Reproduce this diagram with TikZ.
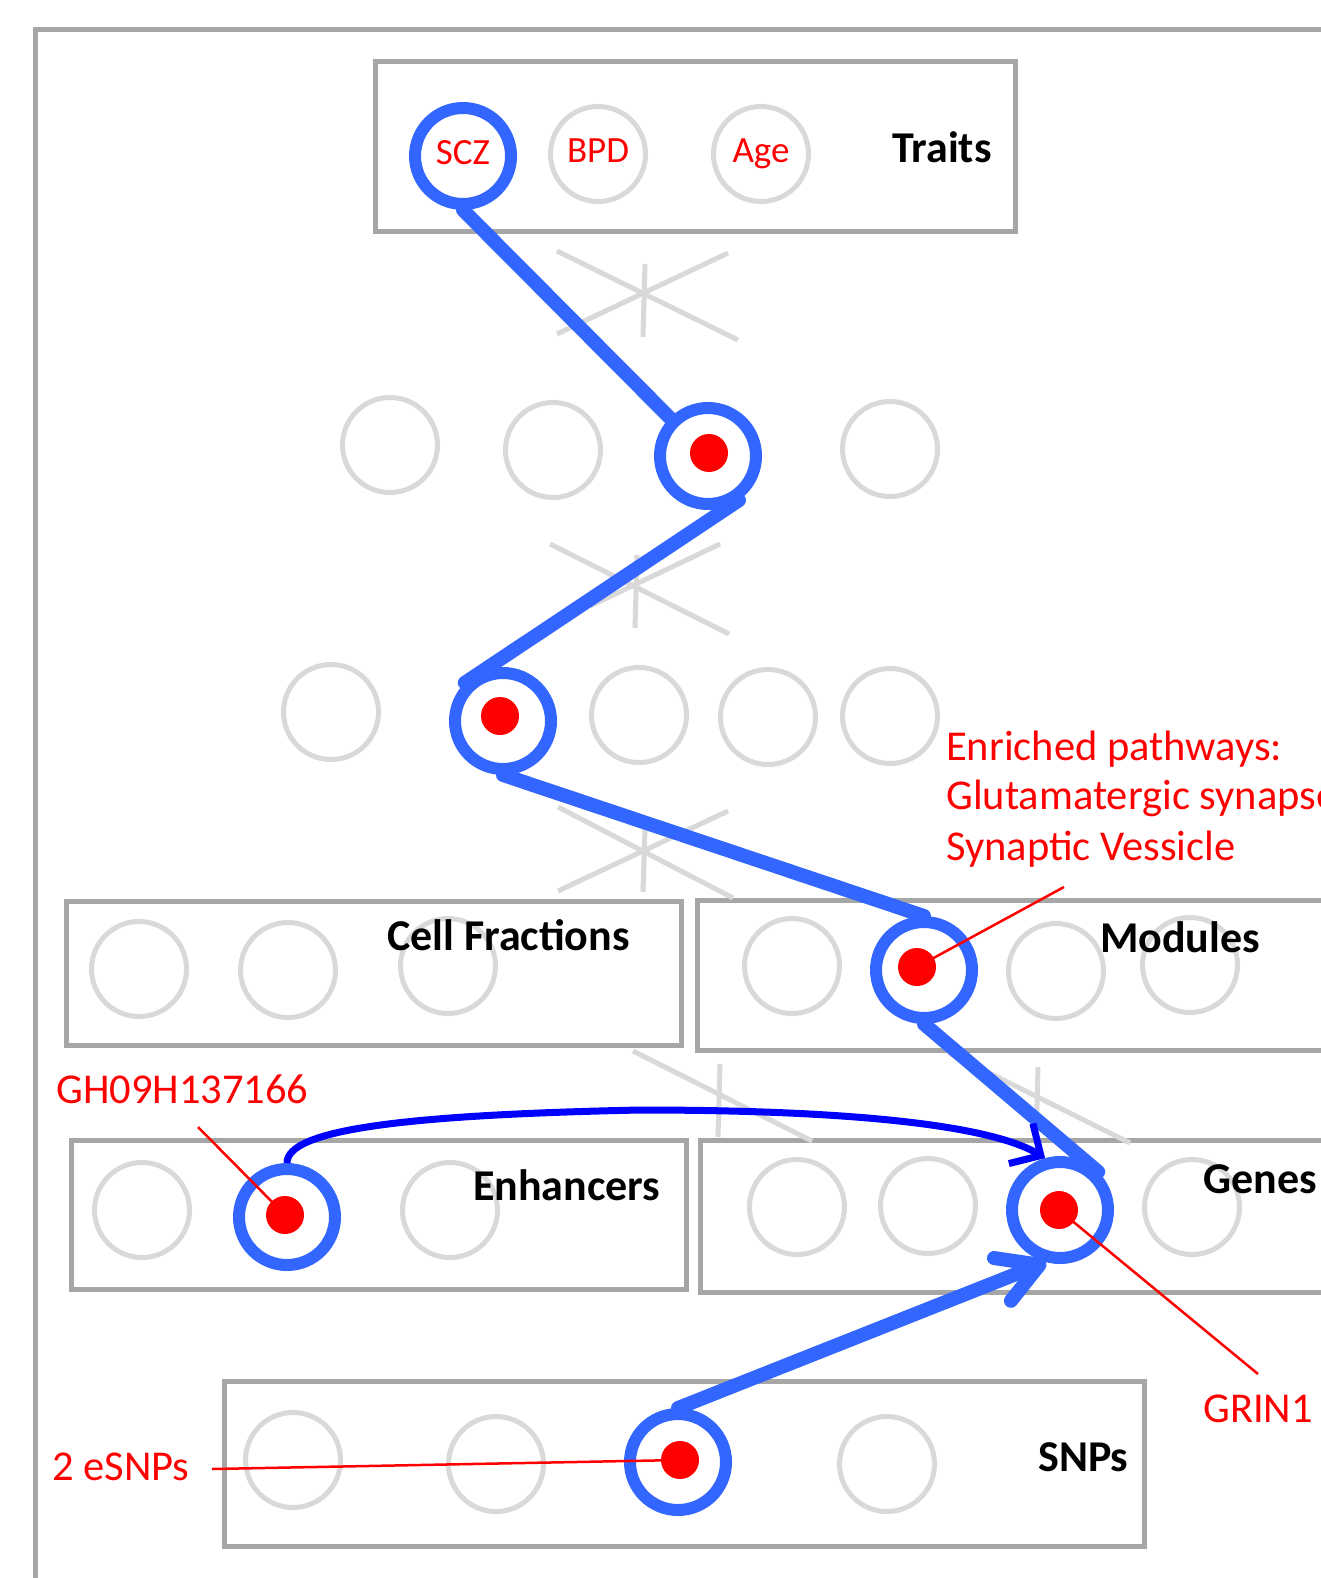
\documentclass[tikz,border=0pt]{standalone}
\usepackage{fontspec}
\setmainfont{Carlito}
\usetikzlibrary{arrows.meta}
\definecolor{boxgray}{HTML}{A6A6A6}
\definecolor{lgray}{HTML}{D9D9D9}
\definecolor{nblue}{HTML}{3366FF}
\definecolor{dblue}{HTML}{0000FF}
\definecolor{tred}{HTML}{FF0000}
\begin{document}
\begin{tikzpicture}[x=1pt,y=-1pt,
  frame/.style={draw=boxgray,line width=5pt},
  xline/.style={draw=lgray,line width=5pt},
  gc/.style={circle,draw=lgray,line width=5pt,minimum size=95pt,inner sep=0pt},
  bc/.style={circle,draw=nblue,fill=white,line width=12pt,minimum size=96pt,inner sep=0pt},
  rdot/.style={circle,fill=tred,minimum size=38pt,inner sep=0pt},
  conn/.style={draw=nblue,line width=14pt,line cap=round,line join=round},
  lab/.style={font=\fontsize{44}{52}\selectfont\bfseries,anchor=base west,inner sep=0pt},
  rlab/.style={text=tred,font=\fontsize{42.5}{50}\selectfont,anchor=base west,inner sep=0pt},
  clab/.style={text=tred,font=\fontsize{37}{42}\selectfont,text height=26pt,text depth=8pt},
  rline/.style={draw=tred,line width=2.5pt}
]
\clip (0,0) rectangle (1321,1578);
\fill[white] (0,0) rectangle (1321,1578);

% frames
\draw[frame] (35,30) rectangle (1400,1650);
\draw[frame] (375,62) rectangle (1015,232);
\draw[frame] (66,901) rectangle (681,1045);
\draw[frame] (697,900) rectangle (1400,1050);
\draw[frame] (71,1140) rectangle (686,1289);
\draw[frame] (700,1140) rectangle (1400,1292);
\draw[frame] (224,1381) rectangle (1144,1546);

% crosses
\draw[xline] (557,251) -- (738,340);
\draw[xline] (557,334) -- (728,253);
\draw[xline] (645,264) -- (643,337);
\draw[xline] (550,544) -- (729,634);
\draw[xline] (590,606) -- (720,544);
\draw[xline] (637,555) -- (635,628);
\draw[xline] (558,807) -- (733,898);
\draw[xline] (558,891) -- (728,811);
\draw[xline] (645,828) -- (643,892);
\draw[xline] (633,1051) -- (812,1141);
\draw[xline] (720,1064) -- (718,1137);
\draw[xline] (949,1053) -- (1130,1143);
\draw[xline] (1038,1067) -- (1036,1140);

% gray circles
\node[gc,clab] (bpd) at (598,154) {BPD};
\node[gc,clab] (age) at (761,154) {Age};
\node[gc] (r2a) at (390,445) {};
\node[gc] (r2b) at (553,450) {};
\node[gc] (r2d) at (890,449) {};
\node[gc] (r3a) at (331,712) {};
\node[gc] (r3c) at (639,715) {};
\node[gc] (r3d) at (768,717) {};
\node[gc] (r3e) at (890,716) {};
\node[gc] (cfa) at (139,969) {};
\node[gc] (cfb) at (288,970) {};
\node[gc] (cfc) at (448,966) {};
\node[gc] (moa) at (792,966) {};
\node[gc] (moc) at (1056,971) {};
\node[gc] (mod4) at (1190,965) {};
\node[gc] (ena) at (142,1210) {};
\node[gc] (enc) at (450,1210) {};
\node[gc] (gea) at (797,1207) {};
\node[gc] (geb) at (928,1206) {};
\node[gc] (ged) at (1192,1207) {};
\node[gc] (sna) at (293,1460) {};
\node[gc] (snb) at (496,1464) {};
\node[gc] (snd) at (887,1464) {};

% blue rings
\node[bc,clab] (scz) at (463,156) {SCZ};
\node[bc] (m2) at (708,456) {};
\node[bc] (m3) at (503,721) {};
\node[bc] (mod) at (924,970) {};
\node[bc] (enh) at (287,1217) {};
\node[bc] (gene) at (1060,1210) {};
\node[bc] (snp) at (678,1462) {};

% blue connectors
\draw[conn] (scz.south) -- (m2.135);
\draw[conn] (m2.-55) -- (m3.135);
\draw[conn] (m3.south) -- (mod.north);
\draw[conn] (mod.south) -- (gene.45);
\draw[conn,-{Straight Barb[angle=60:46pt,round]}] (snp.north) -- (gene.255);

% red dots
\node[rdot] (d2) at (709,453) {};
\node[rdot] (d3) at (500,716) {};
\node[rdot] (dmod) at (917,967) {};
\node[rdot] (denh) at (285,1215) {};
\node[rdot] (dgene) at (1059,1210) {};
\node[rdot] (dsnp) at (680,1460) {};

% enhancer -> gene curve
\draw[dblue,line width=7pt,-{Straight Barb[angle=90:33pt]}]
  (enh.north) .. controls (287,1130) and (400,1115) .. (640,1110)
  .. controls (850,1110) and (990,1125) .. (gene.106);

% red callouts
\coordinate (cmod) at (1064,887);
\coordinate (cgene) at (1258,1374);
\coordinate (cenh) at (198,1127);
\coordinate (csnp) at (212,1469);
\draw[rline] (dmod.center) -- (cmod);
\draw[rline] (dgene.center) -- (cgene);
\draw[rline] (denh.center) -- (cenh);
\draw[rline] (dsnp.center) -- (csnp);

% labels
\node[lab] (ltraits) at (892,163) {Traits};
\node[lab] (lcell) at (387,950) {Cell Fractions};
\node[lab] (lmod) at (1100,952) {Modules};
\node[lab] (lenh) at (473,1200) {Enhancers};
\node[lab] (lgenes) at (1203,1193) {Genes};
\node[lab] (lsnps) at (1038,1471) {SNPs};

\node[rlab] (ep1) at (946,760) {Enriched pathways:};
\node[rlab] (ep2) at (946,809) {Glutamatergic synapse};
\node[rlab] (ep3) at (946,860) {Synaptic Vessicle};
\node[rlab] (lgh) at (56,1103) {GH09H137166};
\node[rlab] (lgrin) at (1203,1422) {GRIN1};
\node[rlab] (lesnp) at (52,1480) {2 eSNPs};
\end{tikzpicture}
\end{document}
